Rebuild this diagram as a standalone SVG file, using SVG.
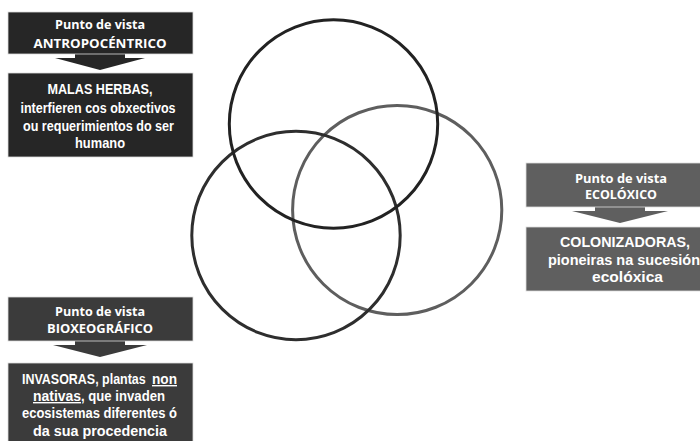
<svg xmlns="http://www.w3.org/2000/svg" width="700" height="441" viewBox="0 0 700 441">
<style>
.hd{font-family:"Open Sans","Liberation Sans",sans-serif;font-weight:bold;font-size:13px;fill:#fff;text-anchor:middle}
.bd{font-family:"Liberation Sans","Open Sans",sans-serif;font-weight:bold;font-size:14px;fill:#fff;text-anchor:middle}
.st{text-anchor:start}
.ul{text-decoration:underline}
.c1{fill:#262626}
.c2{fill:#3b3b3b}
.c3{fill:#5f5f5f}
.bx{stroke:#dcdcdc;stroke-width:0.8}
.ring{fill:none;stroke-width:3}
</style>
<rect width="700" height="441" fill="#fff"/>
<g id="circles">
<circle class="ring" cx="397.2" cy="210" r="104.6" stroke="#5e5e5e"/>
<circle class="ring" cx="296" cy="235.5" r="104.2" stroke="#2e2e2e"/>
<circle class="ring" cx="333.5" cy="124" r="104.2" stroke="#222"/>
</g>
<g id="connectors">
<path class="c1" d="M75 53 H125 V58 H145 L100 70 L55 58 H75 Z"/>
<path class="c3" d="M595 206 H645 V211 H668 L620 223 L572 211 H595 Z"/>
<path class="c2" d="M75 340 H125 V345 H147 L100 357 L53 345 H75 Z"/>
</g>
<g id="antropocentrico">
<rect class="c1 bx" x="8" y="12" width="185" height="42"/>
<text class="hd" x="100" y="29.3" textLength="90" lengthAdjust="spacingAndGlyphs">Punto de vista</text>
<text class="hd" x="100" y="48.3" textLength="133" lengthAdjust="spacingAndGlyphs">ANTROPOCÉNTRICO</text>
</g>
<g id="malas-herbas">
<rect class="c1 bx" x="8" y="73" width="185" height="84"/>
<text class="bd" x="100" y="94" textLength="105" lengthAdjust="spacingAndGlyphs">MALAS HERBAS,</text>
<text class="bd" x="98" y="112.5" textLength="155" lengthAdjust="spacingAndGlyphs">interfieren cos obxectivos</text>
<text class="bd" x="98.5" y="131" textLength="151" lengthAdjust="spacingAndGlyphs">ou requerimientos do ser</text>
<text class="bd" x="100" y="148.3" textLength="50" lengthAdjust="spacingAndGlyphs">humano</text>
</g>
<g id="ecoloxico">
<rect class="c3 bx" x="526" y="163" width="188" height="44"/>
<text class="hd" x="621" y="182.7" textLength="92" lengthAdjust="spacingAndGlyphs">Punto de vista</text>
<text class="hd" x="621" y="199.3" textLength="72" lengthAdjust="spacingAndGlyphs">ECOLÓXICO</text>
</g>
<g id="colonizadoras">
<rect class="c3 bx" x="526" y="227" width="188" height="64"/>
<text class="bd" x="625" y="247.3" textLength="130" lengthAdjust="spacingAndGlyphs">COLONIZADORAS,</text>
<text class="bd" x="624" y="265" textLength="152" lengthAdjust="spacingAndGlyphs">pioneiras na sucesión</text>
<text class="bd" x="627.5" y="281.7" textLength="71" lengthAdjust="spacingAndGlyphs">ecolóxica</text>
</g>
<g id="bioxeografico">
<rect class="c2 bx" x="8" y="297" width="185" height="44"/>
<text class="hd" x="100" y="316" textLength="90" lengthAdjust="spacingAndGlyphs">Punto de vista</text>
<text class="hd" x="100" y="333.3" textLength="106" lengthAdjust="spacingAndGlyphs">BIOXEOGRÁFICO</text>
</g>
<g id="invasoras">
<rect class="c2 bx" x="8" y="363" width="185" height="84"/>
<text class="bd st" transform="translate(22,384) scale(0.89,1)" x="0" y="0">INVASORAS, plantas</text>
<text class="bd st ul" x="152" y="384" textLength="25" lengthAdjust="spacingAndGlyphs">non</text>
<text class="bd st ul" x="33" y="401" textLength="48" lengthAdjust="spacingAndGlyphs">nativas</text>
<text class="bd st" x="81" y="401" textLength="84" lengthAdjust="spacingAndGlyphs">, que invaden</text>
<text class="bd" x="99.5" y="418.3" textLength="155" lengthAdjust="spacingAndGlyphs">ecosistemas diferentes ó</text>
<text class="bd" x="100" y="435.7" textLength="134" lengthAdjust="spacingAndGlyphs">da sua procedencia</text>
</g>
</svg>
